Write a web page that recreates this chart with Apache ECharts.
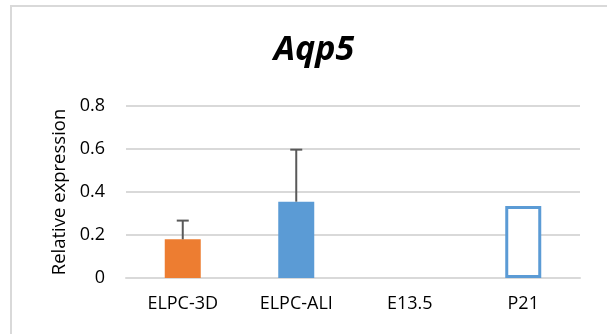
<!DOCTYPE html>
<html><head><meta charset="utf-8">
<script src="https://cdn.jsdelivr.net/npm/echarts@6/dist/echarts.min.js"></script>
<style>html,body{margin:0;padding:0;background:#fff}#c{width:607px;height:334px}</style>
</head><body><div id="c"></div>
<script>
var categories = ['ELPC-3D', 'ELPC-ALI', 'E13.5', 'P21'];
var values = [0.18, 0.355, null, 0.335];
var errorUpper = [0.267, 0.597, null, null];
var yTicks = [0, 0.2, 0.4, 0.6, 0.8];
var barColors = ['#ED7D31', '#5B9BD5', '#5B9BD5', '#5B9BD5'];
var hollow = [false, false, false, true];

var font = '"Open Sans", sans-serif';
var chart = echarts.init(document.getElementById('c'));
var barData = values.map(function (v, i) {
  if (v === null) return { value: '-' };
  if (hollow[i]) return { value: v, itemStyle: { color: '#fff', borderColor: barColors[i], borderWidth: 3 } };
  return { value: v, itemStyle: { color: barColors[i] } };
});
var errData = [];
errorUpper.forEach(function (e, i) { if (e !== null) errData.push([i, values[i], e]); });

chart.setOption({
  animation: false,
  graphic: [{ type: 'rect', shape: { x: 11, y: 6, width: 700, height: 400 }, style: { fill: 'none', stroke: '#d9d9d9', lineWidth: 2 }, silent: true }],
  title: { text: 'Aqp5', left: 309, top: 28, textAlign: 'center',
    textStyle: { fontFamily: font, fontSize: 34, fontWeight: 'bold', fontStyle: 'italic', color: '#000' } },
  grid: { left: 126, right: 27, top: 106, bottom: 56, containLabel: false },
  xAxis: { type: 'category', data: categories,
    axisLine: { lineStyle: { color: '#d9d9d9', width: 2 } }, axisTick: { show: false },
    axisLabel: { fontFamily: font, fontSize: 18, color: '#000', margin: 17 } },
  yAxis: { type: 'value', min: yTicks[0], max: yTicks[yTicks.length - 1], interval: 0.2,
    name: 'Relative expression', nameLocation: 'middle', nameGap: 57,
    nameTextStyle: { fontFamily: font, fontSize: 18.5, color: '#000' },
    axisLine: { show: false }, axisTick: { show: false },
    splitLine: { lineStyle: { color: '#d9d9d9', width: 2 } },
    axisLabel: { fontFamily: font, fontSize: 18, color: '#000', margin: 21,
      formatter: function (v) { return String(Math.round(v * 10) / 10); } } },
  series: [
    { type: 'bar', data: barData, barWidth: 36 },
    { type: 'custom', data: errData, z: 5,
      renderItem: function (params, api) {
        var x = api.value(0), lo = api.coord([x, api.value(1)]), hi = api.coord([x, api.value(2)]);
        var st = { stroke: '#595959', lineWidth: 2 };
        return { type: 'group', children: [
          { type: 'line', shape: { x1: lo[0], y1: lo[1], x2: hi[0], y2: hi[1] }, style: st },
          { type: 'line', shape: { x1: hi[0] - 6, y1: hi[1], x2: hi[0] + 6, y2: hi[1] }, style: st }
        ] };
      } }
  ]
});
</script></body></html>
